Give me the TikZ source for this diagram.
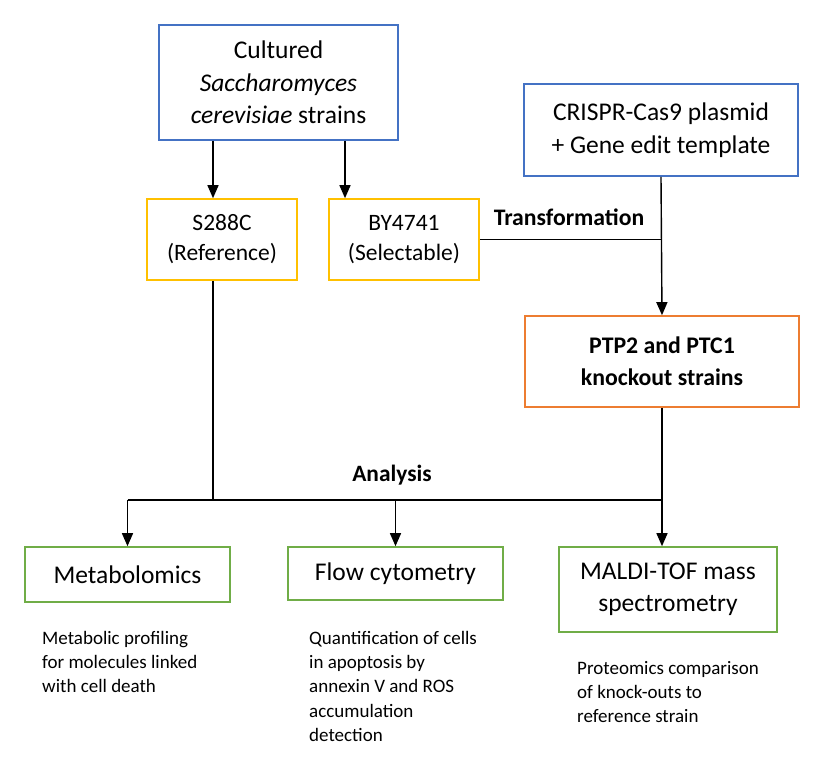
\documentclass[tikz,border=0pt]{standalone}
\usepackage{fontspec}
\setmainfont{Carlito}
\usetikzlibrary{arrows.meta}
\definecolor{cblue}{HTML}{4472C4}
\definecolor{cyellow}{HTML}{FFC000}
\definecolor{corange}{HTML}{ED7D31}
\definecolor{cgreen}{HTML}{70AD47}
\begin{document}
\begin{tikzpicture}[x=1pt, y=-1pt,
  box/.style={draw, line width=1.6pt, inner sep=0pt, align=center},
  arr/.style={-{Triangle[width=11pt,length=13pt]}, line width=1.4pt},
  link/.style={line width=1.4pt},
  big/.style={font=\fontsize{25.5}{32.5}\selectfont},
  mid/.style={font=\fontsize{23.5}{30}\selectfont},
  desc/.style={inner sep=0pt, align=left, anchor=north west, font=\fontsize{19}{24.3}\selectfont}]
\useasboundingbox (0,0) rectangle (815,762);
% source strains and plasmid
\node[box, draw=cblue, big, minimum width=239pt, minimum height=115pt] (cultured) at (278.5,82.5)
  {Cultured\\\textit{Saccharomyces}\\\textit{cerevisiae} strains};
\node[box, draw=cblue, big, minimum width=274pt, minimum height=92pt] (crispr) at (661,130)
  {CRISPR-Cas9 plasmid\\+ Gene edit template};
\node[box, draw=cyellow, mid, minimum width=150pt, minimum height=81pt] (s288c) at (222,239.5)
  {S288C\\(Reference)};
\node[box, draw=cyellow, mid, minimum width=150pt, minimum height=81pt] (by4741) at (404,239.5)
  {BY4741\\(Selectable)};
\node[box, draw=corange, font=\bfseries\fontsize{23.8}{32}\selectfont, minimum width=274pt, minimum height=91pt] (ptp) at (662,361.5)
  {PTP2 and PTC1\\knockout strains};
% analysis methods
\node[box, draw=cgreen, big, minimum width=205pt, minimum height=55pt] (metab) at (127.5,574.5) {Metabolomics};
\node[box, draw=cgreen, big, minimum width=215pt, minimum height=53pt] (flow) at (395.5,573.5) {Flow cytometry};
\node[box, draw=cgreen, big, minimum width=218pt, minimum height=85pt] (maldi) at (668,589.5)
  {MALDI-TOF mass\\spectrometry};
\node[desc] (metabtxt) at (42,631) {Metabolic profiling\\for molecules linked\\with cell death};
\node[desc] (flowtxt) at (309,631) {Quantification of cells\\in apoptosis by\\annexin V and ROS\\accumulation\\detection};
\node[desc] (malditxt) at (577,661) {Proteomics comparison\\of knock-outs to\\reference strain};
% labels
\node[font=\bfseries\fontsize{23.7}{26}\selectfont] (trans) at (569,217) {Transformation};
\node[font=\bfseries\fontsize{23.4}{26}\selectfont] (analysis) at (392,475) {Analysis};
% connectors
\coordinate (lx) at (213,0);
\coordinate (rx) at (345,0);
\coordinate (bus) at (0,500);
\draw[arr] (cultured.south -| lx) -- (s288c.north -| lx);
\draw[arr] (cultured.south -| rx) -- (by4741.north -| rx);
\draw[link] (by4741.east) -- (by4741.east -| crispr.south);
\draw[arr] (crispr.south) -- (ptp.north);
\draw[link] (s288c.south -| lx) -- (bus -| lx);
\draw[link] (bus -| metab) -- (bus -| ptp);
\draw[arr] (bus -| metab) -- (metab.north);
\draw[arr] (bus -| flow) -- (flow.north);
\draw[arr] (ptp.south) -- (maldi.north -| ptp.south);
\end{tikzpicture}
\end{document}
